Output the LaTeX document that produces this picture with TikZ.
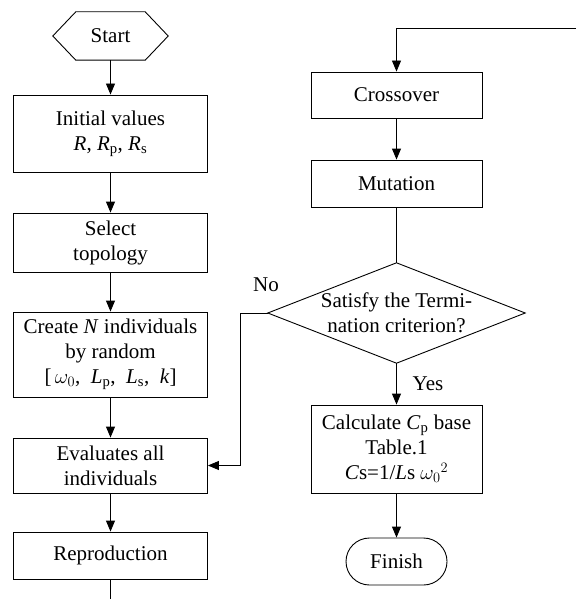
\documentclass[tikz,border=0pt]{standalone}
\usepackage{fontspec}
\setmainfont{Liberation Serif}
\usetikzlibrary{arrows.meta,shapes.misc}
\begin{document}
\begin{tikzpicture}[x=1pt,y=-1pt,
  every node/.style={font=\fontsize{21}{25}\selectfont, align=center, inner sep=0pt},
  boxL/.style={draw, line width=0.9pt, minimum width=194pt},
  boxR/.style={draw, line width=0.9pt, minimum width=171pt},
  arr/.style={line width=0.9pt, -{Triangle[length=11pt,width=9pt]}},
  ln/.style={line width=0.9pt},
  lab/.style={font=\fontsize{21}{24}\selectfont}]
\useasboundingbox (0,0) rectangle (576,599);
% left column
\node[minimum width=115pt, minimum height=48pt] (start) at (110.5,36) {Start};
\draw[ln] (start.west) -- ([xshift=23pt]start.north west) -- ([xshift=-23pt]start.north east)
  -- (start.east) -- ([xshift=-23pt]start.south east) -- ([xshift=23pt]start.south west) -- cycle;
\node[boxL, minimum height=77pt] (init) at (110.5,133.5) {Initial values\\ \textit{R}, \textit{R}\textsubscript{p}, \textit{R}\textsubscript{s}};
\node[boxL, minimum height=59pt] (sel) at (110.5,242.5) {Select\\topology};
\node[boxL, minimum height=85pt] (create) at (110.5,354.5) {Create \textit{N} individuals\\by random\\{[}\,$\omega_0$,\ \ \textit{L}\textsubscript{p},\ \ \textit{L}\textsubscript{s},\ \ \textit{k}]};
\node[boxL, minimum height=55pt] (eval) at (110.5,465.5) {Evaluates all\\individuals};
\node[boxL, minimum height=47pt] (repro) at (110.5,555.5) {Reproduction};
\coordinate (bottom) at (110.5,599);
% right column
\node[boxR, minimum height=46pt] (cross) at (396.5,95) {Crossover};
\node[boxR, minimum height=47pt] (mut) at (396.5,183.5) {Mutation};
\node[minimum width=257pt, minimum height=100pt] (dia) at (396.5,313) {Satisfy the Termi-\\nation criterion?};
\draw[ln] (dia.north) -- (dia.east) -- (dia.south) -- (dia.west) -- cycle;
\node[boxR, minimum height=88pt] (calc) at (396.5,449) {Calculate \textit{C}\textsubscript{p} base\\Table.1\\ \textit{C}s=1/\textit{L}s $\omega_0{}^{2}$};
\node[draw, line width=0.9pt, rounded rectangle, minimum width=101pt, minimum height=47pt] (fin) at (396.5,561.5) {Finish};
\coordinate (topR) at (576,28);
% labels
\node[lab] (no) at (266,285) {No};
\node[lab] (yes) at (428,384) {Yes};
% connectors
\draw[arr] (start.south) -- (init.north);
\draw[arr] (init.south) -- (sel.north);
\draw[arr] (sel.south) -- (create.north);
\draw[arr] (create.south) -- (eval.north);
\draw[arr] (eval.south) -- (repro.north);
\draw[ln] (repro.south) -- (bottom);
\draw[arr] (topR) -| (cross.north);
\draw[arr] (cross.south) -- (mut.north);
\draw[ln] (mut.south) -- (dia.north);
\draw[arr] (dia.west) -- ++(-27,0) |- (eval.east);
\draw[arr] (dia.south) -- (calc.north);
\draw[arr] (calc.south) -- (fin.north);
\end{tikzpicture}
\end{document}
